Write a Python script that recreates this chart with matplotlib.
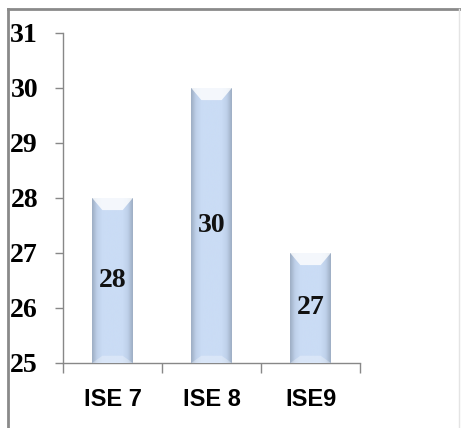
import numpy as np
import matplotlib
matplotlib.use("Agg")
import matplotlib.pyplot as plt
from matplotlib.colors import LinearSegmentedColormap
from matplotlib.patches import Polygon
from matplotlib.lines import Line2D

categories = ["ISE 7", "ISE 8", "ISE9"]
scores = [28, 30, 27]
y_ticks = [25, 26, 27, 28, 29, 30, 31]

fig = plt.figure(figsize=(4.61, 4.28), dpi=100)
ax = fig.add_axes([0.1367, 0.1519, 0.6443, 0.7710])

x = np.arange(len(categories))
bar_w = 0.41
bars = ax.bar(x, scores, width=bar_w, bottom=0, color="#c9dbf3",
              edgecolor="none", zorder=2)

# shaded cylinder look: thin darker sides, flat light middle
shade = LinearSegmentedColormap.from_list(
    "shade", [(0.0, "#9eaec4"), (0.12, "#bfd1ea"), (0.25, "#cadcf5"),
              (0.75, "#cadcf5"), (0.88, "#bfd1ea"), (1.0, "#9eaec4")])
grad = np.linspace(0, 1, 64).reshape(1, -1)
bevel = 0.22
for b, v in zip(bars, scores):
    x0 = b.get_x()
    w = b.get_width()
    im = ax.imshow(grad, cmap=shade, aspect="auto", zorder=3,
                   extent=[x0, x0 + w, 25, v], interpolation="bicubic")
    im.set_clip_path(b)
    # light chamfer on the top face
    inset = w * 0.25
    top = Polygon([[x0, v], [x0 + w, v], [x0 + w - inset, v - bevel],
                   [x0 + inset, v - bevel]], closed=True,
                  facecolor="white", alpha=0.8, edgecolor="none", zorder=4)
    ax.add_patch(top)
    bot = Polygon([[x0, 25], [x0 + w, 25], [x0 + w - inset, 25 + bevel * 0.6],
                   [x0 + inset, 25 + bevel * 0.6]], closed=True,
                  facecolor="white", alpha=0.3, edgecolor="none", zorder=4)
    ax.add_patch(bot)
    ax.text(b.get_x() + w / 2, (25 + v) / 2, str(v), ha="center", va="center",
            fontsize=20, fontweight="bold", family="Liberation Serif",
            color="#111111", zorder=5)

ax.set_xlim(-0.5, len(categories) - 0.5)
ax.set_ylim(25, 31)
ax.set_yticks(y_ticks)
ax.set_yticklabels([str(t) for t in y_ticks], fontsize=20, fontweight="bold",
                   family="Liberation Serif")
ax.set_xticks(x)
ax.set_xticklabels(categories, fontsize=17, fontweight="bold",
                   family="Liberation Sans")
ax.set_xticks(np.arange(-0.5, len(categories)), minor=True)

ax.tick_params(axis="y", direction="out", length=6, width=1, color="#888888",
               pad=12)
ax.tick_params(axis="x", which="major", length=0, pad=18)
ax.tick_params(axis="x", which="minor", direction="out", length=7, width=1,
               color="#888888")

for side in ["top", "right"]:
    ax.spines[side].set_visible(False)
for side in ["left", "bottom"]:
    ax.spines[side].set_color("#888888")
    ax.spines[side].set_linewidth(1)

# outer frame of the chart area
fig.add_artist(Line2D([8 / 461, 8 / 461], [0, 1 - 9 / 428], color="#8a8a8a",
                      lw=2, transform=fig.transFigure))
fig.add_artist(Line2D([8 / 461, 1], [1 - 9 / 428, 1 - 9 / 428], color="#8a8a8a",
                      lw=2, transform=fig.transFigure))
fig.add_artist(Line2D([459 / 461, 459 / 461], [0, 1 - 9 / 428], color="#e4e4e4",
                      lw=1, transform=fig.transFigure))

fig.savefig("out.png", dpi=100)
